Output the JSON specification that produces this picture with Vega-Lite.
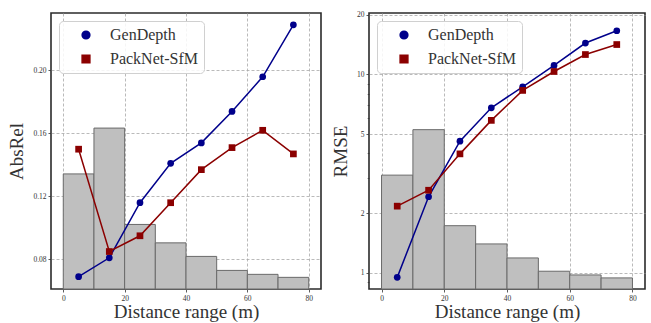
{
  "$schema": "https://vega.github.io/schema/vega-lite/v6.json",
  "padding": {"left": 7, "top": 9, "right": 1, "bottom": 0},
  "spacing": 8,
  "background": "white",
  "datasets": {
    "hist": [
      {"lo": 0, "hi": 10, "absrel": 0.1343, "rmse": 3.11},
      {"lo": 10, "hi": 20, "absrel": 0.1634, "rmse": 5.27},
      {"lo": 20, "hi": 30, "absrel": 0.1022, "rmse": 1.73},
      {"lo": 30, "hi": 40, "absrel": 0.0905, "rmse": 1.40},
      {"lo": 40, "hi": 50, "absrel": 0.0819, "rmse": 1.19},
      {"lo": 50, "hi": 60, "absrel": 0.0730, "rmse": 1.02},
      {"lo": 60, "hi": 70, "absrel": 0.0705, "rmse": 0.977},
      {"lo": 70, "hi": 80, "absrel": 0.0686, "rmse": 0.944}
    ],
    "series": [
      {"model": "GenDepth", "dist": 5, "absrel": 0.069, "rmse": 0.95},
      {"model": "GenDepth", "dist": 15, "absrel": 0.081, "rmse": 2.42},
      {"model": "GenDepth", "dist": 25, "absrel": 0.116, "rmse": 4.61},
      {"model": "GenDepth", "dist": 35, "absrel": 0.141, "rmse": 6.79},
      {"model": "GenDepth", "dist": 45, "absrel": 0.154, "rmse": 8.67},
      {"model": "GenDepth", "dist": 55, "absrel": 0.174, "rmse": 11.1},
      {"model": "GenDepth", "dist": 65, "absrel": 0.196, "rmse": 14.4},
      {"model": "GenDepth", "dist": 75, "absrel": 0.229, "rmse": 16.6},
      {"model": "PackNet-SfM", "dist": 5, "absrel": 0.150, "rmse": 2.17},
      {"model": "PackNet-SfM", "dist": 15, "absrel": 0.085, "rmse": 2.61},
      {"model": "PackNet-SfM", "dist": 25, "absrel": 0.095, "rmse": 3.98},
      {"model": "PackNet-SfM", "dist": 35, "absrel": 0.116, "rmse": 5.87},
      {"model": "PackNet-SfM", "dist": 45, "absrel": 0.137, "rmse": 8.31},
      {"model": "PackNet-SfM", "dist": 55, "absrel": 0.151, "rmse": 10.35},
      {"model": "PackNet-SfM", "dist": 65, "absrel": 0.162, "rmse": 12.6},
      {"model": "PackNet-SfM", "dist": 75, "absrel": 0.147, "rmse": 14.15}
    ]
  },
  "config": {
    "font": "Liberation Serif",
    "view": {"stroke": "#2b2b2b", "strokeWidth": 1.6},
    "axis": {
      "domain": false,
      "grid": true,
      "gridColor": "#a8a8a8",
      "gridDash": [3, 2],
      "gridWidth": 0.8,
      "tickColor": "#333",
      "tickSize": 3,
      "tickWidth": 0.8,
      "labelFont": "Liberation Serif",
      "labelFontSize": 7.5,
      "labelColor": "#333",
      "labelPadding": 2,
      "labelSeparation": -40,
      "titleFont": "Liberation Serif",
      "titleFontSize": 19,
      "titleFontWeight": "normal",
      "titleColor": "#333",
      "zindex": 1
    },
    "legend": {
      "title": null,
      "orient": "top-left",
      "offset": 8,
      "fillColor": "rgba(255,255,255,0.85)",
      "strokeColor": "#d0d0d0",
      "cornerRadius": 4,
      "padding": 6,
      "labelFont": "Liberation Serif",
      "labelFontSize": 16,
      "labelColor": "#333",
      "symbolOffset": 13,
      "labelOffset": 16,
      "rowPadding": 8,
      "symbolSize": 60
    }
  },
  "resolve": {"scale": {"color": "independent", "shape": "independent"}, "legend": {"color": "independent", "shape": "independent"}},
  "hconcat": [
    {
      "width": 270,
      "height": 276,
      "layer": [
        {
          "data": {"name": "hist"},
          "mark": {"type": "bar", "fill": "#bfbfbf", "stroke": "#6a6a6a", "strokeWidth": 1, "clip": true},
          "encoding": {
            "x": {"field": "lo", "type": "quantitative", "scale": {"domain": [-4, 84], "nice": false, "zero": false},
                  "axis": {"values": [0, 10, 20, 30, 40, 50, 60, 70, 80], "labelOverlap": false, "labelSeparation": -40, "title": "Distance range (m)", "titlePadding": 1}},
            "x2": {"field": "hi"},
            "y": {"field": "absrel", "type": "quantitative", "scale": {"domain": [0.0612, 0.2365], "nice": false, "zero": false},
                  "axis": {"values": [0.08, 0.10, 0.12, 0.14, 0.16, 0.18, 0.20, 0.22], "labelOverlap": false, "labelSeparation": -40, "format": ".2f", "title": "AbsRel", "titlePadding": 6}},
            "y2": {"datum": 0.0612}
          }
        },
        {
          "data": {"name": "series"},
          "mark": {"type": "line", "strokeWidth": 1.5},
          "encoding": {
            "x": {"field": "dist", "type": "quantitative"},
            "y": {"field": "absrel", "type": "quantitative"},
            "color": {"field": "model", "type": "nominal", "scale": {"domain": ["GenDepth", "PackNet-SfM"], "range": ["#00008b", "#8b0000"]}}
          }
        },
        {
          "data": {"name": "series"},
          "mark": {"type": "point", "filled": true, "opacity": 1, "size": 45},
          "encoding": {
            "x": {"field": "dist", "type": "quantitative"},
            "y": {"field": "absrel", "type": "quantitative"},
            "color": {"field": "model", "type": "nominal"},
            "shape": {"field": "model", "type": "nominal", "scale": {"domain": ["GenDepth", "PackNet-SfM"], "range": ["circle", "square"]}}
          }
        }
      ]
    },
    {
      "width": 276,
      "height": 276,
      "layer": [
        {
          "data": {"name": "hist"},
          "mark": {"type": "bar", "fill": "#bfbfbf", "stroke": "#6a6a6a", "strokeWidth": 1, "clip": true},
          "encoding": {
            "x": {"field": "lo", "type": "quantitative", "scale": {"domain": [-4, 84], "nice": false, "zero": false},
                  "axis": {"values": [0, 10, 20, 30, 40, 50, 60, 70, 80], "labelOverlap": false, "labelSeparation": -40, "title": "Distance range (m)", "titlePadding": 1}},
            "x2": {"field": "hi"},
            "y": {"field": "rmse", "type": "quantitative", "scale": {"type": "log", "domain": [0.83, 20.4], "nice": false, "zero": false},
                  "axis": {"values": [0.9, 1, 2, 3, 4, 5, 6, 7, 8, 9, 10, 20], "labelOverlap": false, "format": "d", "title": "RMSE", "titlePadding": 6,
                           "labelExpr": "(datum.value==1||datum.value==2||datum.value==5||datum.value==10||datum.value==20) ? datum.label : ''",
                           "gridOpacity": {"condition": {"test": "datum.value==1||datum.value==2||datum.value==5||datum.value==10||datum.value==20", "value": 1}, "value": 0},
                           "tickSize": {"condition": {"test": "datum.value==1||datum.value==2||datum.value==5||datum.value==10||datum.value==20", "value": 3}, "value": 1.8}}},
            "y2": {"datum": 0.83}
          }
        },
        {
          "data": {"name": "series"},
          "mark": {"type": "line", "strokeWidth": 1.5},
          "encoding": {
            "x": {"field": "dist", "type": "quantitative"},
            "y": {"field": "rmse", "type": "quantitative"},
            "color": {"field": "model", "type": "nominal", "scale": {"domain": ["GenDepth", "PackNet-SfM"], "range": ["#00008b", "#8b0000"]}}
          }
        },
        {
          "data": {"name": "series"},
          "mark": {"type": "point", "filled": true, "opacity": 1, "size": 45},
          "encoding": {
            "x": {"field": "dist", "type": "quantitative"},
            "y": {"field": "rmse", "type": "quantitative"},
            "color": {"field": "model", "type": "nominal"},
            "shape": {"field": "model", "type": "nominal", "scale": {"domain": ["GenDepth", "PackNet-SfM"], "range": ["circle", "square"]}}
          }
        }
      ]
    }
  ]
}
